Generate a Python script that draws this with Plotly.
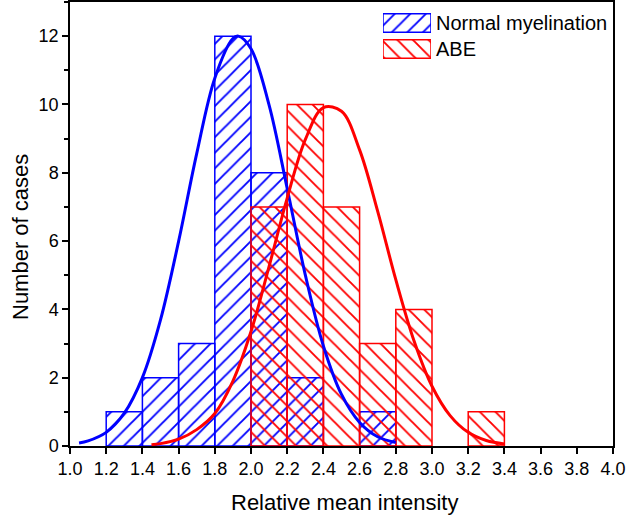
import plotly.graph_objects as go

# Histogram bins (centres) and counts
bin_centers = [1.3, 1.5, 1.7, 1.9, 2.1, 2.3, 2.5, 2.7, 2.9, 3.1, 3.3]
normal_counts = [1, 2, 3, 12, 8, 2, 0, 1, 0, 0, 0]
abe_counts = [0, 0, 0, 0, 7, 10, 7, 3, 4, 0, 1]

# Fitted normal curves
normal_curve_x = [1.05, 1.1, 1.2, 1.3, 1.4, 1.5, 1.6, 1.7, 1.8, 1.9, 1.93, 2.0, 2.1, 2.2, 2.3, 2.4, 2.5, 2.6, 2.7, 2.8]
normal_curve_y = [0.09, 0.15, 0.40, 0.96, 2.00, 3.69, 5.99, 8.56, 10.77, 11.93, 12.0, 11.63, 9.98, 7.54, 5.01, 2.93, 1.51, 0.69, 0.27, 0.10]
abe_curve_x = [1.45, 1.5, 1.6, 1.7, 1.8, 1.9, 2.0, 2.1, 2.2, 2.3, 2.4, 2.5, 2.6, 2.7, 2.8, 2.9, 3.0, 3.1, 3.2, 3.3, 3.4]
abe_curve_y = [0.04, 0.07, 0.20, 0.48, 0.95, 1.90, 3.35, 5.26, 7.26, 8.97, 9.91, 9.80, 8.67, 6.87, 4.87, 3.09, 1.75, 0.89, 0.40, 0.16, 0.06]

series_names = ["Normal myelination", "ABE"]
x_title = "Relative mean intensity"
y_title = "Number of cases"

BLUE = "#0000FF"
RED = "#FF0000"
FONT = "Arial, Liberation Sans, sans-serif"

L, R, T, B = 70, 17, 2, 72
W, H = 630, 518
PW, PH = W - L - R, H - T - B


def px_x(p):
    return (p - L) / PW


def px_y(p):
    return (H - B - p) / PH


def marker(color, shape):
    return dict(
        color="rgba(0,0,0,0)",
        line=dict(color=color, width=1.5),
        pattern=dict(shape=shape, fgcolor=color, bgcolor="rgba(0,0,0,0)",
                     fgopacity=1, size=11, solidity=0.17, fillmode="replace"),
    )


fig = go.Figure()

for counts, color, shape, name in [(normal_counts, BLUE, "/", series_names[0]),
                                   (abe_counts, RED, "\\", series_names[1])]:
    xs = [x for x, c in zip(bin_centers, counts) if c > 0]
    ys = [c for c in counts if c > 0]
    fig.add_trace(go.Bar(x=xs, y=ys, width=0.2, name=name, showlegend=False,
                         marker=marker(color, shape)))

fig.add_trace(go.Scatter(x=normal_curve_x, y=normal_curve_y, mode="lines",
                         line=dict(color=BLUE, width=3, shape="spline"), showlegend=False))
fig.add_trace(go.Scatter(x=abe_curve_x, y=abe_curve_y, mode="lines",
                         line=dict(color=RED, width=3, shape="spline"), showlegend=False))

# Legend swatches drawn on a small overlay axis
fig.add_trace(go.Bar(y=[1.5], x=[1], base=0, orientation="h", width=0.72,
                     marker=marker(BLUE, "/"), showlegend=False,
                     xaxis="x2", yaxis="y2", hoverinfo="skip"))
fig.add_trace(go.Bar(y=[0.5], x=[1], base=0, orientation="h", width=0.72,
                     marker=marker(RED, "\\"), showlegend=False,
                     xaxis="x2", yaxis="y2", hoverinfo="skip"))

for name, yp in zip(series_names, [23, 49]):
    fig.add_annotation(text=name, xref="paper", yref="paper", x=px_x(434), y=px_y(yp),
                       xanchor="left", yanchor="middle", showarrow=False,
                       font=dict(size=20, family=FONT, color="black"))

# Axis titles
fig.add_annotation(text=x_title, xref="paper", yref="paper", x=px_x(344), y=px_y(503),
                   xanchor="center", yanchor="middle", showarrow=False,
                   font=dict(size=22, family=FONT, color="black"))
fig.add_annotation(text=y_title, xref="paper", yref="paper", x=px_x(20), y=px_y(237),
                   xanchor="center", yanchor="middle", showarrow=False, textangle=-90,
                   font=dict(size=22, family=FONT, color="black"))

fig.update_layout(
    width=W, height=H,
    margin=dict(l=L, r=R, t=T, b=B),
    barmode="overlay",
    showlegend=False,
    plot_bgcolor="white", paper_bgcolor="white",
    font=dict(family=FONT, color="black", size=18),
    xaxis=dict(
        range=[1.0, 4.0], tick0=1.0, dtick=0.2, tickformat=".1f",
        ticks="outside", ticklen=6, tickwidth=1.5, tickcolor="black",
        showline=True, linecolor="black", linewidth=1.5, mirror=True,
        showgrid=False, zeroline=False, automargin=False,
        tickfont=dict(size=18),
    ),
    yaxis=dict(
        range=[0, 13], tick0=0, dtick=2,
        ticks="outside", ticklen=6, tickwidth=1.5, tickcolor="black",
        minor=dict(dtick=1, ticks="outside", ticklen=4, tickwidth=1.5, tickcolor="black"),
        showline=True, linecolor="black", linewidth=1.5, mirror=True,
        showgrid=False, zeroline=False, automargin=False,
        tickfont=dict(size=18),
    ),
    xaxis2=dict(domain=[px_x(383), px_x(431)], range=[0, 1], visible=False,
                anchor="y2", fixedrange=True),
    yaxis2=dict(domain=[px_y(62), px_y(10)], range=[0, 2], visible=False,
                anchor="x2", fixedrange=True),
)

fig.write_html("out.html", config={"displayModeBar": False},
               post_script="document.body.style.margin='0';")
